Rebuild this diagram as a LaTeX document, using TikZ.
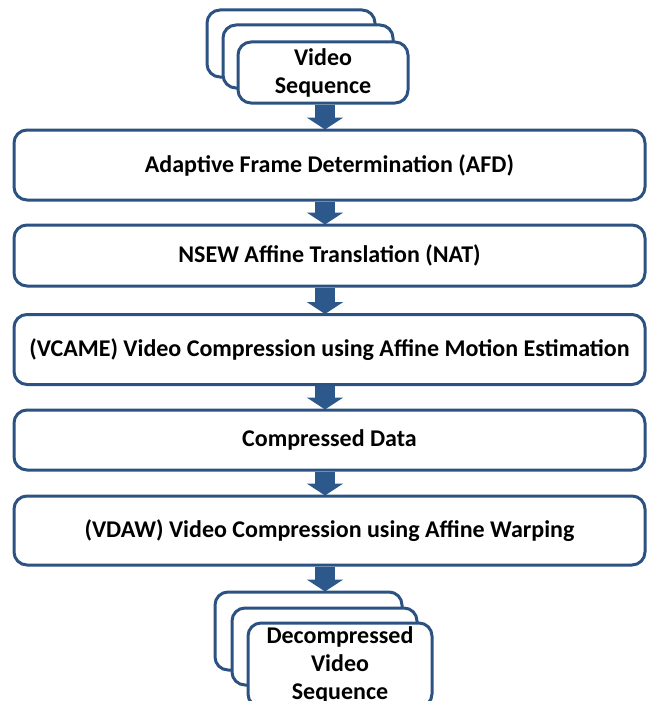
\documentclass[tikz,border=0pt]{standalone}
\usepackage{fontspec}
\setmainfont{Carlito}
\usetikzlibrary{arrows.meta,calc}
\definecolor{bdr}{RGB}{44,82,130}
\definecolor{arr}{RGB}{45,88,140}
\tikzset{
  box/.style={draw=bdr, line width=3pt, rounded corners=13pt, fill=white,
    minimum width=631pt, inner sep=0pt, font=\fontsize{24}{28}\selectfont\bfseries},
  stk/.style={draw=bdr, line width=3pt, rounded corners=13pt, fill=white,
    inner sep=0pt, align=center, font=\fontsize{24}{28}\selectfont\bfseries},
  flow/.style={draw=arr, line width=20pt, -{Triangle[width=36pt,length=12pt]}, shorten >=-1pt}
}
\begin{document}
\begin{tikzpicture}[x=1pt,y=-1pt]
\useasboundingbox (0,0) rectangle (650,701);
\clip (0,0) rectangle (650,701);
% top stack
\node[stk, minimum width=168pt, minimum height=67pt] (v1) at (291,43.5) {};
\node[stk, minimum width=170pt, minimum height=63pt] (v2) at (308,56.5) {};
\node[stk, minimum width=170pt, minimum height=61pt] (v3) at (323,72.5) {Video\\Sequence};
% main boxes
\node[box, minimum height=70pt] (b1) at (329.5,165) {Adaptive Frame Determination (AFD)};
\node[box, minimum height=61pt] (b2) at (329.5,255.5) {NSEW Affine Translation (NAT)};
\node[box, minimum height=70pt] (b3) at (329.5,349.5) {(VCAME) Video Compression using Affine Motion Estimation};
\node[box, minimum height=60pt] (b4) at (329.5,440) {Compressed Data};
\node[box, minimum height=69pt] (b5) at (329.5,530.5) {(VDAW) Video Compression using Affine Warping};
% bottom stack
\node[stk, minimum width=187pt, minimum height=78pt] (d1) at (308.5,631) {};
\node[stk, minimum width=185pt, minimum height=77pt] (d2) at (324.5,646.5) {};
\node[stk, minimum width=184pt, minimum height=84pt] (d3) at (340,665) {Decompressed\\Video\\Sequence};
% arrows
\coordinate (ax) at (325,0);
\draw[flow] (ax |- v3.south) -- (ax |- b1.north);
\draw[flow] (ax |- b1.south) -- (ax |- b2.north);
\draw[flow] (ax |- b2.south) -- (ax |- b3.north);
\draw[flow] (ax |- b3.south) -- (ax |- b4.north);
\draw[flow] (ax |- b4.south) -- (ax |- b5.north);
\draw[flow] (ax |- b5.south) -- (ax |- d1.north);
\end{tikzpicture}
\end{document}
